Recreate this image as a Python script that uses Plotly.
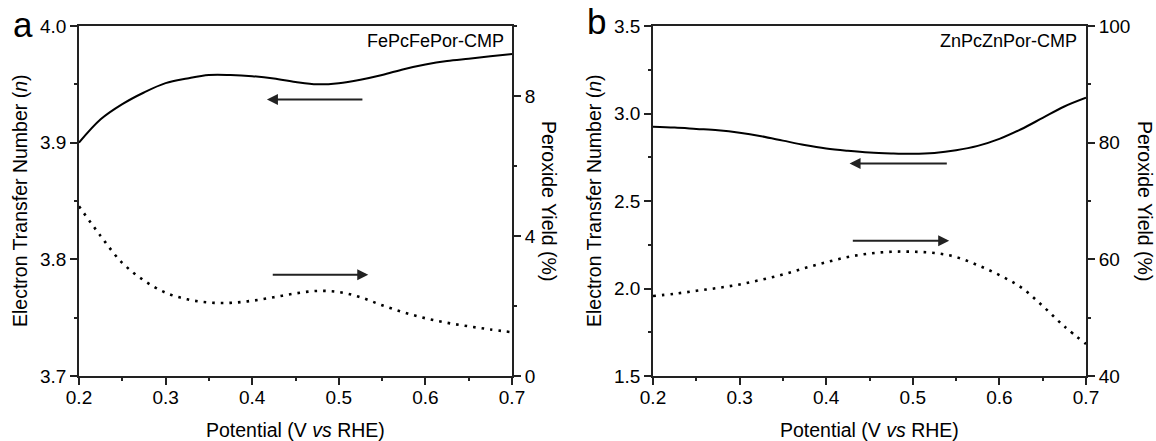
import plotly.graph_objects as go

# ---------------- data ----------------
potential = [0.200, 0.225, 0.250, 0.275, 0.300, 0.325, 0.350, 0.375, 0.400, 0.425,
             0.450, 0.475, 0.500, 0.525, 0.550, 0.575, 0.600, 0.625, 0.650, 0.675, 0.700]

# panel a: FePcFePor-CMP
n_a = [3.900, 3.920, 3.933, 3.943, 3.951, 3.955, 3.958, 3.958, 3.957, 3.955,
       3.952, 3.950, 3.951, 3.954, 3.958, 3.963, 3.967, 3.970, 3.972, 3.974, 3.976]
yield_a = [4.85, 4.00, 3.23, 2.73, 2.38, 2.19, 2.10, 2.09, 2.15, 2.25,
           2.36, 2.43, 2.40, 2.25, 2.02, 1.82, 1.65, 1.52, 1.42, 1.33, 1.25]

# panel b: ZnPcZnPor-CMP
n_b = [2.925, 2.920, 2.912, 2.904, 2.890, 2.870, 2.845, 2.820, 2.800, 2.787,
       2.777, 2.772, 2.770, 2.775, 2.790, 2.815, 2.855, 2.910, 2.975, 3.040, 3.090]
yield_b = [53.7, 54.1, 54.6, 55.1, 55.7, 56.5, 57.4, 58.5, 59.5, 60.4,
           61.0, 61.3, 61.3, 61.1, 60.4, 59.0, 57.3, 55.2, 52.0, 48.5, 45.5]

x_ticks = [0.2, 0.3, 0.4, 0.5, 0.6, 0.7]
labels = {"a": "FePcFePor-CMP", "b": "ZnPcZnPor-CMP"}
x_title = "Potential (V <i>vs</i> RHE)"
y_left_title = "Electron Transfer Number (<i>n</i>)"
y_right_title = "Peroxide Yield (%)"

# ---------------- layout geometry ----------------
W, H = 1156, 441
FONT = "Liberation Sans, Arial, sans-serif"
AX = "#222222"


def px_x(p):
    return p / W


def px_y(p):
    return 1 - p / H


ydom = [px_y(376), px_y(26)]
dom_a = [px_x(79), px_x(512)]
dom_b = [px_x(653), px_x(1086)]

fig = go.Figure()

line_solid = dict(color="black", width=2, shape="spline")
line_dot = dict(color="black", width=2.6, dash="2.6px,6px", shape="spline")

fig.add_trace(go.Scatter(x=potential, y=n_a, mode="lines", line=line_solid, xaxis="x", yaxis="y"))
fig.add_trace(go.Scatter(x=potential, y=yield_a, mode="lines", line=line_dot, xaxis="x", yaxis="y2"))
fig.add_trace(go.Scatter(x=potential, y=n_b, mode="lines", line=line_solid, xaxis="x2", yaxis="y3"))
fig.add_trace(go.Scatter(x=potential, y=yield_b, mode="lines", line=line_dot, xaxis="x2", yaxis="y4"))

tickfont = dict(family=FONT, size=19, color="black")


def xax(domain, anchor):
    return dict(domain=domain, anchor=anchor, range=[0.2, 0.7], tickvals=x_ticks,
                ticktext=[f"{v:.1f}" for v in x_ticks],
                showline=True, linecolor=AX, linewidth=1.8, mirror=True,
                ticks="outside", ticklen=7, tickwidth=1.5, tickcolor=AX,
                ticklabelstandoff=-4,
                minor=dict(dtick=0.05, tick0=0.2, ticks="outside", ticklen=3.5, tickwidth=1.5, tickcolor=AX),
                showgrid=False, zeroline=False, tickfont=tickfont, automargin=False)


def yax(domain, anchor, rng, dtick, mdtick, fmt, side="left", overlaying=None):
    d = dict(domain=domain, anchor=anchor, range=rng, dtick=dtick, tick0=rng[0], tickformat=fmt,
             side=side, showline=True, linecolor=AX, linewidth=1.8,
             ticks="outside", ticklen=7, tickwidth=1.5, tickcolor=AX,
             minor=dict(dtick=mdtick, tick0=rng[0], ticks="outside", ticklen=3.5, tickwidth=1.5, tickcolor=AX),
             showgrid=False, zeroline=False, tickfont=tickfont, automargin=False)
    if overlaying:
        d["overlaying"] = overlaying
    return d


fig.update_layout(
    width=W, height=H,
    margin=dict(l=0, r=0, t=0, b=0),
    paper_bgcolor="white", plot_bgcolor="white",
    showlegend=False,
    font=dict(family=FONT, color="black"),
    xaxis=xax(dom_a, "y"),
    yaxis=yax(ydom, "x", [3.7, 4.0], 0.1, 0.05, ".1f"),
    yaxis2=yax(ydom, "x", [0, 10], 4, 2, "d", side="right", overlaying="y"),
    xaxis2=xax(dom_b, "y3"),
    yaxis3=yax(ydom, "x2", [1.5, 3.5], 0.5, 0.25, ".1f"),
    yaxis4=yax(ydom, "x2", [40, 100], 20, 10, "d", side="right", overlaying="y3"),
)

ann = []
tfont = dict(family=FONT, size=19.5, color="black")
# axis titles
for dom, lx, rx in [(dom_a, 20, 549), (dom_b, 594, 1145)]:
    cx = (dom[0] + dom[1]) / 2
    ann.append(dict(text=x_title, x=cx, y=px_y(430), xref="paper", yref="paper",
                    showarrow=False, font=tfont, xanchor="center", yanchor="middle"))
    ann.append(dict(text=y_left_title, x=px_x(lx), y=px_y(201), xref="paper", yref="paper",
                    showarrow=False, font=tfont, textangle=-90, xanchor="center", yanchor="middle"))
    ann.append(dict(text=y_right_title, x=px_x(rx), y=px_y(201), xref="paper", yref="paper",
                    showarrow=False, font=tfont, textangle=90, xanchor="center", yanchor="middle"))

# sample labels
ann.append(dict(text=labels["a"], x=px_x(506), y=px_y(41), xref="paper", yref="paper",
                showarrow=False, font=dict(family=FONT, size=18, color="black"),
                xanchor="right", yanchor="middle"))
ann.append(dict(text=labels["b"], x=px_x(1079), y=px_y(41), xref="paper", yref="paper",
                showarrow=False, font=dict(family=FONT, size=18, color="black"),
                xanchor="right", yanchor="middle"))

# panel letters
ann.append(dict(text="a", x=px_x(23), y=px_y(25), xref="paper", yref="paper",
                showarrow=False, font=dict(family=FONT, size=35, color="black"),
                xanchor="center", yanchor="middle"))
ann.append(dict(text="b", x=px_x(596), y=px_y(22), xref="paper", yref="paper",
                showarrow=False, font=dict(family=FONT, size=35, color="black"),
                xanchor="center", yanchor="middle"))

# arrows (head at x,y ; tail at ax,ay)
arrow = dict(text="", showarrow=True, arrowhead=2, arrowsize=1.1, arrowwidth=2,
             arrowcolor="#222222", standoff=0)
ann.append(dict(arrow, x=0.417, y=3.937, ax=0.529, ay=3.937, xref="x", yref="y", axref="x", ayref="y"))
ann.append(dict(arrow, x=0.534, y=2.89, ax=0.422, ay=2.89, xref="x", yref="y2", axref="x", ayref="y2"))
ann.append(dict(arrow, x=0.427, y=2.715, ax=0.541, ay=2.715, xref="x2", yref="y3", axref="x2", ayref="y3"))
ann.append(dict(arrow, x=0.542, y=2.273, ax=0.429, ay=2.273, xref="x2", yref="y3", axref="x2", ayref="y3"))

fig.update_layout(annotations=ann)

fig.write_html("out.html")
